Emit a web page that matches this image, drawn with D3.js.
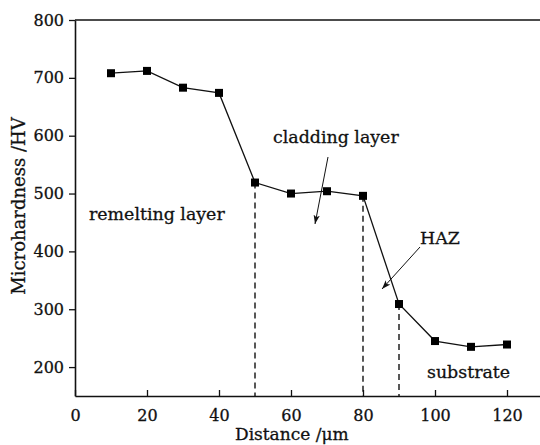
<!DOCTYPE html>
<html>
<head>
<meta charset="utf-8">
<script src="https://cdn.jsdelivr.net/npm/d3@7"></script>
<style>
  body { margin: 0; background: #fff; }
  svg { display: block; }
  text { font-family: "DejaVu Serif", "Liberation Serif", serif; fill: #111; stroke: #111; stroke-width: 0.3px; }
</style>
</head>
<body>
<svg width="540" height="445"></svg>
<script>
(function () {

  // distance from surface (um) and measured microhardness (HV)
  var distance = [10, 20, 30, 40, 50, 60, 70, 80, 90, 100, 110, 120]
  var hardness = [708, 712, 683, 674, 519, 500, 504, 496, 309, 245, 235, 239]

  // zone boundaries drawn as dashed drop lines
  var boundaries = [50, 80, 90]

  var xTicks = [0, 20, 40, 60, 80, 100, 120]
  var yTicks = [200, 300, 400, 500, 600, 700, 800]

  var svg = d3.select('svg')

  var left = 75, right = 543, top = 20, bottom = 396

  var x = d3.scaleLinear().domain([0, 130]).range([left, right])
  var y = d3.scaleLinear().domain([150, 800]).range([bottom, top])

  var points = distance.map(function (d, i) { return { x: d, y: hardness[i] } })

  // frame: left axis, bottom axis, top line
  svg.append('line')
    .attr('x1', left).attr('x2', 540).attr('y1', top).attr('y2', top)
    .attr('stroke', '#111').attr('stroke-width', 1.6)

  var xAxis = svg.append('g')
    .attr('transform', 'translate(0,' + bottom + ')')
    .call(d3.axisBottom(x).tickValues(xTicks).tickSizeInner(-6).tickSizeOuter(0).tickPadding(14))
  xAxis.select('.domain').attr('stroke-width', 1.6).attr('stroke', '#111')
  xAxis.selectAll('.tick line').attr('stroke', '#111').attr('stroke-width', 1.3)
  xAxis.selectAll('text').attr('font-size', 16).attr('fill', '#111')

  var yAxis = svg.append('g')
    .attr('transform', 'translate(' + left + ',0)')
    .call(d3.axisLeft(y).tickValues(yTicks).tickSizeInner(6).tickSizeOuter(0).tickPadding(5))
  yAxis.select('.domain').attr('stroke-width', 1.6).attr('stroke', '#111')
  yAxis.selectAll('.tick line').attr('stroke', '#111').attr('stroke-width', 1.3)
  yAxis.selectAll('text').attr('font-size', 16).attr('fill', '#111')

  // dashed drop lines
  svg.selectAll('.drop')
    .data(boundaries)
    .enter().append('line')
    .attr('class', 'drop')
    .attr('x1', d => x(d)).attr('x2', d => x(d))
    .attr('y1', function (d) { return y(hardness[distance.indexOf(d)]) })
    .attr('y2', bottom)
    .attr('stroke', '#111')
    .attr('stroke-width', 1.4)
    .attr('stroke-dasharray', '6,4')

  // the profile line
  var line = d3.line().x(d => x(d.x)).y(d => y(d.y))
  svg.append('path')
    .datum(points)
    .attr('d', line)
    .attr('fill', 'none')
    .attr('stroke', '#111')
    .attr('stroke-width', 1.3)

  svg.selectAll('.pt')
    .data(points)
    .enter().append('rect')
    .attr('class', 'pt')
    .attr('x', d => x(d.x) - 4)
    .attr('y', d => y(d.y) - 4)
    .attr('width', 8)
    .attr('height', 8)
    .attr('fill', '#000')

  // arrowhead
  svg.append('defs').append('marker')
    .attr('id', 'arrow')
    .attr('viewBox', '0 0 10 10')
    .attr('refX', 10).attr('refY', 5)
    .attr('markerWidth', 9).attr('markerHeight', 9)
    .attr('markerUnits', 'userSpaceOnUse')
    .attr('orient', 'auto')
    .append('path')
    .attr('d', 'M0,1.5 L10,5 L0,8.5 L2.5,5 Z')
    .attr('fill', '#111')

  // annotations
  svg.append('text').attr('x', 89).attr('y', 220).attr('font-size', 17.4).text('remelting layer')
  svg.append('text').attr('x', 273).attr('y', 143).attr('font-size', 17.4).text('cladding layer')
  svg.append('text').attr('x', 420).attr('y', 244).attr('font-size', 17.4).text('HAZ')
  svg.append('text').attr('x', 427).attr('y', 378).attr('font-size', 17.4).text('substrate')

  svg.append('line')
    .attr('x1', 328).attr('y1', 157).attr('x2', 315).attr('y2', 224)
    .attr('stroke', '#111').attr('stroke-width', 1)
    .attr('marker-end', 'url(#arrow)')
  svg.append('line')
    .attr('x1', 420).attr('y1', 247).attr('x2', 382).attr('y2', 289)
    .attr('stroke', '#111').attr('stroke-width', 1)
    .attr('marker-end', 'url(#arrow)')

  // axis titles
  svg.append('text')
    .attr('x', 235).attr('y', 440)
    .attr('font-size', 17)
    .text('Distance /\u03bcm')

  svg.append('text')
    .attr('transform', 'translate(25,206) rotate(-90)')
    .attr('text-anchor', 'middle')
    .attr('font-size', 18)
    .text('Microhardness /HV')

})()
</script>
</body>
</html>
